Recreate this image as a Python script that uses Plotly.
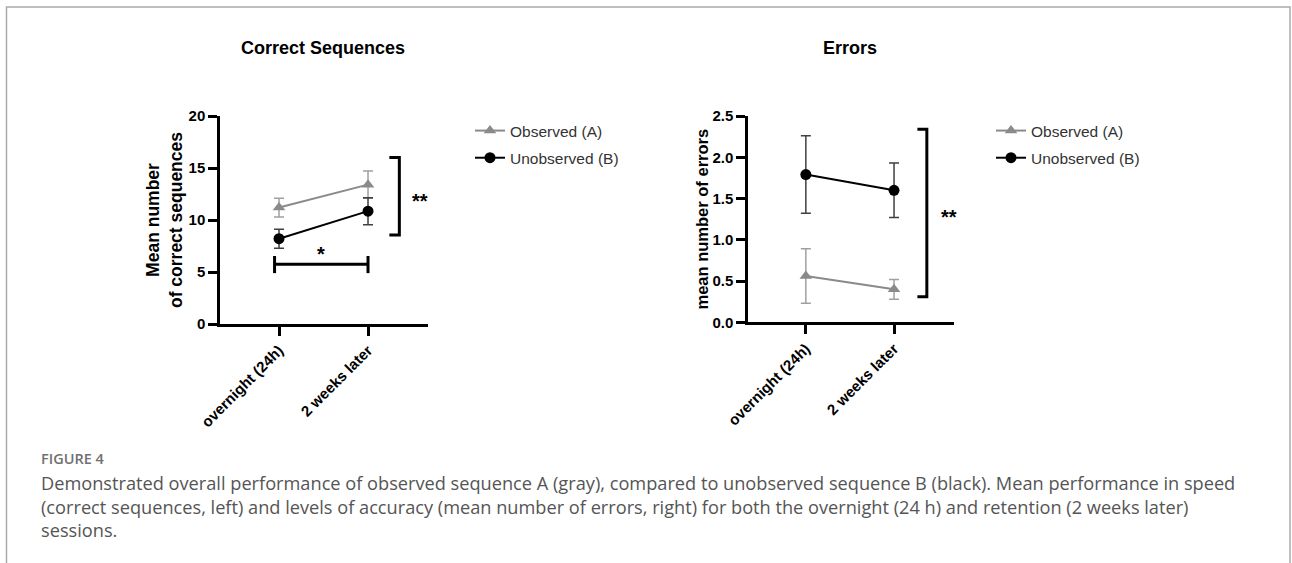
import plotly.graph_objects as go

W, H = 1292, 563

# ---------------- data ----------------
sessions = ["overnight (24h)", "2 weeks later"]
series_names = ["Observed (A)", "Unobserved (B)"]

cs_observed = [11.2, 13.4]
cs_observed_err = [0.9, 1.3]
cs_unobserved = [8.2, 10.85]
cs_unobserved_err = [0.92, 1.3]

err_observed = [0.56, 0.40]
err_observed_err = [0.33, 0.12]
err_unobserved = [1.79, 1.60]
err_unobserved_err = [0.47, 0.33]

# significance brackets (data units)
cs_between_bracket = [8.56, 16.0]     # ** between A and B (left panel)
cs_session_bracket = 5.74             # * between sessions (left panel)
err_between_bracket = [0.31, 2.34]    # ** between A and B (right panel)

caption_title = "FIGURE 4"
caption_lines = [
    "Demonstrated overall performance of observed sequence A (gray), compared to unobserved sequence B (black). Mean performance in speed",
    "(correct sequences, left) and levels of accuracy (mean number of errors, right) for both the overnight (24 h) and retention (2 weeks later)",
    "sessions.",
]

# ---------------- styles ----------------
FONT = "Arial, Liberation Sans, sans-serif"
GRAY = "#8a8a8a"
GRAY_ERR = "#a0a0a0"
BLACK = "#000000"
BLACK_ERR = "#404040"


def px_x(p):
    return p / W


def px_y(p):
    return 1 - p / H


fig = go.Figure()


def add_series(x, y, err, name, color, ecolor, symbol, xa, ya, legend):
    fig.add_trace(go.Scatter(
        x=x, y=y, name=name, mode="lines+markers",
        xaxis=xa, yaxis=ya, legend=legend,
        line=dict(color=color, width=2),
        marker=dict(symbol=symbol, size=11, color=color),
        error_y=dict(type="data", array=err, visible=True,
                     color=ecolor, thickness=1.5, width=5),
        cliponaxis=False, legendgroup=name + legend,
    ))


add_series(sessions, cs_observed, cs_observed_err, series_names[0], GRAY, GRAY_ERR,
           "triangle-up", "x", "y", "legend")
add_series(sessions, cs_unobserved, cs_unobserved_err, series_names[1], BLACK, BLACK_ERR,
           "circle", "x", "y", "legend")
add_series(sessions, err_observed, err_observed_err, series_names[0], GRAY, GRAY_ERR,
           "triangle-up", "x2", "y2", "legend2")
add_series(sessions, err_unobserved, err_unobserved_err, series_names[1], BLACK, BLACK_ERR,
           "circle", "x2", "y2", "legend2")


def axis_base(size):
    return dict(
        showline=True, linewidth=2.5, linecolor="black", mirror=False,
        ticks="outside", tickwidth=2.5, tickcolor="black",
        showgrid=False, zeroline=False, automargin=False,
        tickfont=dict(family=FONT, size=size, color="black", weight="bold"),
    )


fig.update_layout(
    width=W, height=H,
    margin=dict(l=0, r=0, t=0, b=0, pad=0),
    paper_bgcolor="white", plot_bgcolor="white",
    xaxis=dict(**axis_base(15), domain=[px_x(220), px_x(428)], range=[-0.663, 1.674],
               anchor="y", ticklen=9, tickangle=-45),
    yaxis=dict(**axis_base(15),
               domain=[px_y(324), px_y(116)], range=[0, 20], dtick=5, ticklen=9,
               anchor="x",
               title=dict(text="Mean number<br>of correct sequences", standoff=2,
                          font=dict(family=FONT, size=17.5, color="black", weight="bold"))),
    xaxis2=dict(**axis_base(15), domain=[px_x(748), px_x(954)], range=[-0.656, 1.68],
                anchor="y2", ticklen=9, tickangle=-45),
    yaxis2=dict(**axis_base(15),
                domain=[px_y(322.3), px_y(116)], range=[0, 2.5], dtick=0.5,
                tickformat=".1f", ticklen=9, anchor="x2",
                title=dict(text="mean number of errors", standoff=0,
                           font=dict(family=FONT, size=16.5, color="black", weight="bold"))),
    legend=dict(x=px_x(470), y=px_y(114), xanchor="left", yanchor="top",
                font=dict(family=FONT, size=15.5, color="#333333"),
                bgcolor="rgba(0,0,0,0)", tracegroupgap=4, traceorder="grouped"),
    legend2=dict(x=px_x(991), y=px_y(114), xanchor="left", yanchor="top",
                 font=dict(family=FONT, size=15.5, color="#333333"),
                 bgcolor="rgba(0,0,0,0)", tracegroupgap=4, traceorder="grouped"),
    showlegend=True,
)

# ---------------- significance brackets ----------------
BR = dict(color="black", width=3)
# left panel, between series
lo, hi = cs_between_bracket
fig.add_shape(type="path", xref="x", yref="y",
              path=f"M 1.24,{hi} L 1.352,{hi} L 1.352,{lo} L 1.24,{lo}", line=BR)
fig.add_annotation(x=1.585, y=(lo + hi) / 2 - 0.5, xref="x", yref="y", text="<b>**</b>",
                   showarrow=False, font=dict(family=FONT, size=20, color="black"))
# left panel, between sessions
s = cs_session_bracket
fig.add_shape(type="line", xref="x", yref="y", x0=-0.05, x1=1.0, y0=s, y1=s, line=BR)
fig.add_shape(type="line", xref="x", yref="y", x0=-0.05, x1=-0.05, y0=s - 0.85, y1=s + 0.8, line=BR)
fig.add_shape(type="line", xref="x", yref="y", x0=1.0, x1=1.0, y0=s - 0.85, y1=s + 0.8, line=BR)
fig.add_annotation(x=0.47, y=s + 1.0, xref="x", yref="y", text="<b>*</b>",
                   showarrow=False, font=dict(family=FONT, size=20, color="black"))
# right panel, between series
lo, hi = err_between_bracket
fig.add_shape(type="path", xref="x2", yref="y2",
              path=f"M 1.265,{hi} L 1.372,{hi} L 1.372,{lo} L 1.265,{lo}", line=BR)
fig.add_annotation(x=1.625, y=(lo + hi) / 2 - 0.05, xref="x2", yref="y2", text="<b>**</b>",
                   showarrow=False, font=dict(family=FONT, size=20, color="black"))

# ---------------- titles ----------------
fig.add_annotation(x=px_x(323), y=px_y(48), xref="paper", yref="paper",
                   xanchor="center", yanchor="middle",
                   text="<b>Correct Sequences</b>", showarrow=False,
                   font=dict(family=FONT, size=18, color="black"))
fig.add_annotation(x=px_x(850), y=px_y(48), xref="paper", yref="paper",
                   xanchor="center", yanchor="middle",
                   text="<b>Errors</b>", showarrow=False,
                   font=dict(family=FONT, size=18, color="black"))

# ---------------- frame & caption ----------------
fig.add_shape(type="rect", xref="paper", yref="paper",
              x0=px_x(6.5), x1=px_x(1290), y0=-0.2, y1=px_y(7),
              line=dict(color="#aaaaaa", width=1.5), layer="below")

fig.add_annotation(x=px_x(39), y=px_y(458), xref="paper", yref="paper",
                   xanchor="left", yanchor="middle", text=caption_title, showarrow=False,
                   font=dict(family="Open Sans, sans-serif", size=14.5, color="#707070",
                             weight=600))
for i, line in enumerate(caption_lines):
    fig.add_annotation(x=px_x(39), y=px_y(483 + 23.5 * i), xref="paper", yref="paper",
                       xanchor="left", yanchor="middle", text=line, showarrow=False,
                       font=dict(family="Open Sans, sans-serif", size=18.2, color="#555555"))

fig.write_html("out.html", config={"displayModeBar": False},
               post_script="document.body.style.margin='0';document.body.style.overflow='hidden';")
